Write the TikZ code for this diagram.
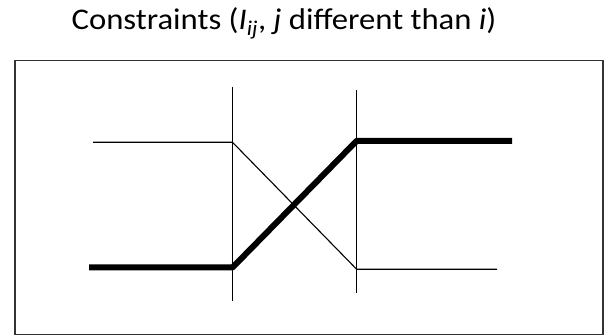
\documentclass[tikz,border=0pt]{standalone}
\usepackage{fontspec}
\setmainfont{Carlito}
\begin{document}
\begin{tikzpicture}[x=1pt, y=-1pt,
  frameline/.style={draw=black!80, line width=1.3pt},
  guideline/.style={black, line width=1.4pt},
  thinline/.style={black, line width=1.1pt},
  thickline/.style={black, line width=6pt, line join=round}]
  \useasboundingbox (0,0) rectangle (610,336);
  % title
  \node[anchor=base, inner sep=0pt, font=\fontsize{30}{36}\selectfont] (title) at (284,30)
    {\scalebox{1.09}[1]{Constraints (\textit{I\textsubscript{ij}}, \textit{j} different than \textit{i})}};
  % frame
  \draw[frameline] (15,60.5) rectangle (603,334.5);
  % guides
  \coordinate (aTop) at (232.5,87);
  \coordinate (aBot) at (232.5,301);
  \coordinate (bTop) at (356.7,90);
  \coordinate (bBot) at (356.7,293);
  \draw[guideline] (aTop) -- (aBot);
  \draw[guideline] (bTop) -- (bBot);
  % thin curve
  \coordinate (hiL) at (93,142.3);
  \coordinate (a1) at (232.5,142.3);
  \coordinate (b2) at (356.7,269.3);
  \coordinate (loR) at (497,269.3);
  \draw[thinline] (hiL) -- (a1) -- (b2) -- (loR);
  % thick curve
  \coordinate (loL) at (89,267.5);
  \coordinate (a2) at (232.5,267.5);
  \coordinate (b1) at (356.7,140.8);
  \coordinate (hiR) at (512,140.8);
  \draw[thickline] (loL) -- (a2) -- (b1) -- (hiR);
\end{tikzpicture}
\end{document}
